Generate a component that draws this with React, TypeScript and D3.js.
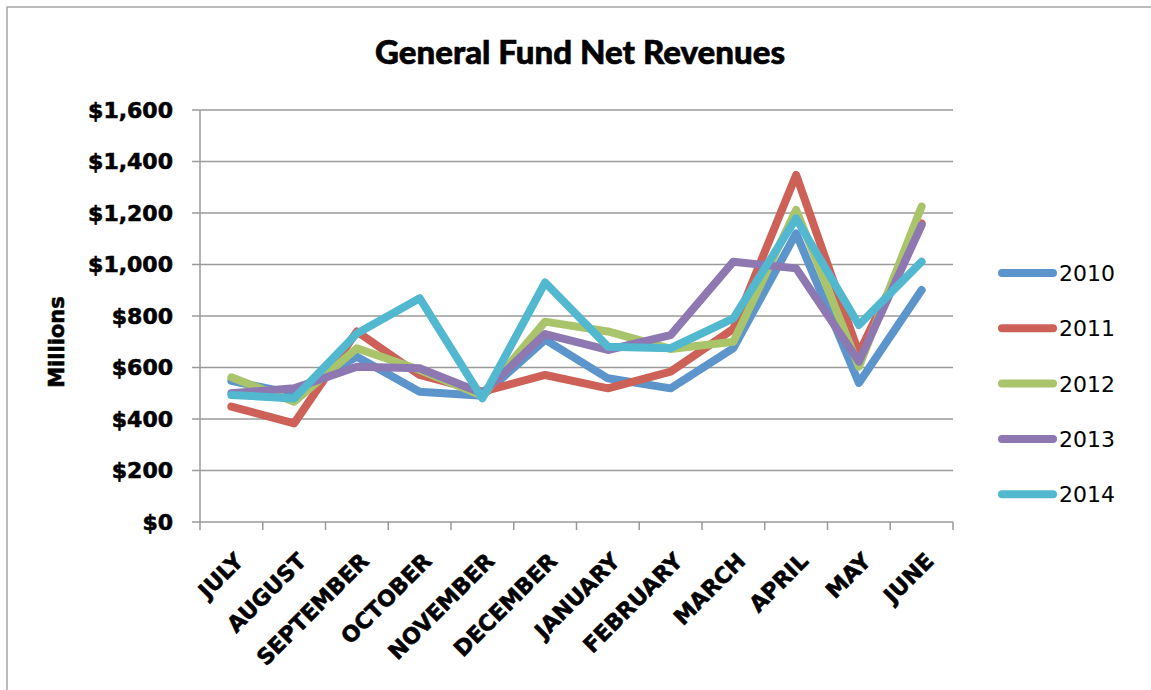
import React from "react";
import * as d3 from "d3";

const months = ["JULY","AUGUST","SEPTEMBER","OCTOBER","NOVEMBER","DECEMBER","JANUARY","FEBRUARY","MARCH","APRIL","MAY","JUNE"];
const years = ["2010","2011","2012","2013","2014"];
const v2010 = [548, 497, 642, 506, 490, 708, 558, 519, 675, 1121, 540, 901];
const v2011 = [448, 383, 740, 571, 506, 571, 519, 584, 750, 1348, 655, 1160];
const v2012 = [562, 467, 675, 590, 490, 778, 740, 672, 700, 1212, 603, 1225];
const v2013 = [500, 519, 603, 597, 500, 730, 668, 726, 1011, 985, 623, 1153];
const v2014 = [493, 480, 732, 869, 480, 930, 681, 675, 791, 1179, 765, 1011];
const seriesValues = [v2010, v2011, v2012, v2013, v2014];
const colors = ["#5B95CB", "#CD6158", "#A9C46A", "#8E78B1", "#52B8D0"];
const yTicks = [0, 200, 400, 600, 800, 1000, 1200, 1400, 1600];

const W = 1151, H = 690;
const left = 200, right = 953, top = 110, bottom = 522;

export default function App() {
  const x = d3.scaleBand<string>().domain(months).range([left, right]).padding(0);
  const y = d3.scaleLinear().domain([0, 1600]).range([bottom, top]);
  const line = d3.line<number>()
    .x((_, i) => (x(months[i]) as number) + x.bandwidth() / 2)
    .y(d => y(d));
  const fmt = (v: number) => "$" + d3.format(",")(v);
  const tickFont = "'DejaVu Sans', sans-serif";
  const heavy = { stroke: "#000", strokeWidth: 0.6 };
  return (
    <svg width={W} height={H} style={{ position: "absolute", left: 0, top: 0, background: "#fff" }}>
      <rect x={7} y={7} width={W + 20} height={H + 20} fill="#fff" stroke="#a6a6a6" strokeWidth={1.5} />
      <text x={580} y={64} textAnchor="middle" fontFamily="Lato, sans-serif" fontWeight={900} fontSize={32} textLength={410} lengthAdjust="spacingAndGlyphs" fill="#000" {...heavy}>General Fund Net Revenues</text>
      {yTicks.map(t => (
        <g key={t}>
          <line x1={left - 8} x2={right} y1={y(t)} y2={y(t)} stroke="#9a9a9a" strokeWidth={1.5} />
          <text x={173} y={y(t)} dy="0.36em" textAnchor="end" fontFamily={tickFont} fontWeight="bold" fontSize={22} fill="#000" {...heavy}>{fmt(t)}</text>
        </g>
      ))}
      <line x1={left} x2={left} y1={top} y2={bottom} stroke="#9a9a9a" strokeWidth={1.5} />
      {months.map((m, i) => (
        <line key={"t" + m} x1={left + i * x.bandwidth()} x2={left + i * x.bandwidth()} y1={bottom} y2={bottom + 8} stroke="#9a9a9a" strokeWidth={1.5} />
      ))}
      <line x1={right} x2={right} y1={bottom} y2={bottom + 8} stroke="#9a9a9a" strokeWidth={1.5} />
      {months.map(m => {
        const cx = (x(m) as number) + x.bandwidth() / 2;
        return (
          <text key={m} transform={`translate(${cx + 8},${557}) rotate(-45)`} dy="0.35em" textAnchor="end" fontFamily={tickFont} fontWeight="bold" fontSize={22} fill="#000" {...heavy}>{m}</text>
        );
      })}
      <text transform={`translate(57,342) rotate(-90)`} dy="0.35em" textAnchor="middle" fontFamily={tickFont} fontWeight="bold" fontSize={21} fill="#000" {...heavy}>Millions</text>
      {seriesValues.map((vals, i) => (
        <path key={years[i]} d={line(vals) as string} fill="none" stroke={colors[i]} strokeWidth={8} strokeLinejoin="round" strokeLinecap="round" />
      ))}
      {years.map((yr, i) => {
        const ly = 273 + i * 55.3;
        return (
          <g key={"l" + yr}>
            <line x1={1002} x2={1053} y1={ly} y2={ly} stroke={colors[i]} strokeWidth={8} strokeLinecap="round" />
            <text x={1059} y={ly} dy="0.36em" fontFamily={tickFont} fontSize={22} fill="#000">{yr}</text>
          </g>
        );
      })}
    </svg>
  );
}
